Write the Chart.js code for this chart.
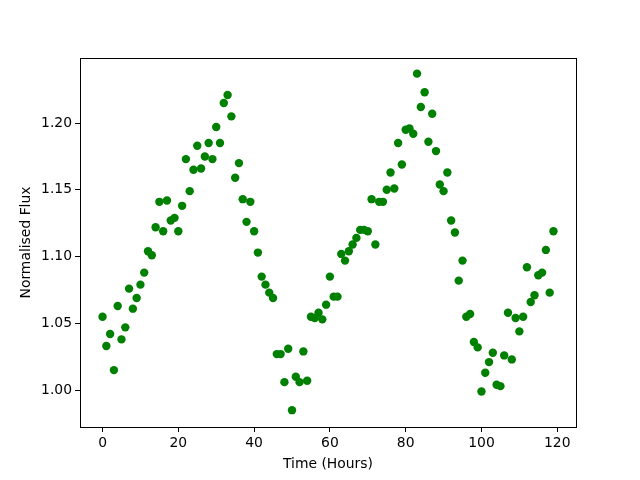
<!DOCTYPE html>
<html>
<head>
<meta charset="utf-8">
<script src="https://cdn.jsdelivr.net/npm/chart.js@4/dist/chart.umd.min.js"></script>
<style>
html,body{margin:0;padding:0;background:#fff;}
#wrap{width:640px;height:480px;}
</style>
</head>
<body>
<div id="wrap"><canvas id="c" width="640" height="480"></canvas></div>
<script>
const hours = [];
for (let h = 0; h < 120; h++) hours.push(h);
const flux = [
1.055,1.033,1.042,1.015,1.063,1.038,1.047,1.076,1.061,1.069,
1.079,1.088,1.104,1.101,1.122,1.141,1.119,1.142,1.127,1.129,
1.119,1.138,1.173,1.149,1.165,1.183,1.166,1.175,1.185,1.173,
1.197,1.185,1.215,1.221,1.205,1.159,1.170,1.143,1.126,1.141,
1.119,1.103,1.085,1.079,1.073,1.069,1.027,1.027,1.006,1.031,
0.985,1.010,1.006,1.029,1.007,1.055,1.054,1.058,1.053,1.064,
1.085,1.070,1.070,1.102,1.097,1.104,1.109,1.114,1.120,1.120,
1.119,1.143,1.109,1.141,1.141,1.150,1.163,1.151,1.185,1.169,
1.195,1.196,1.192,1.237,1.212,1.223,1.186,1.207,1.179,1.154,
1.149,1.163,1.127,1.118,1.082,1.097,1.055,1.057,1.036,1.032,
0.999,1.013,1.021,1.028,1.004,1.003,1.026,1.058,1.023,1.054,
1.044,1.055,1.092,1.066,1.071,1.086,1.088,1.105,1.073,1.119
];
const xTicks = [0,20,40,60,80,100,120];
const yTicks = [1.00,1.05,1.10,1.15,1.20];
const xLabel = 'Time (Hours)';
const yLabel = 'Normalised Flux';

const points = hours.map((h,i)=>({x:h,y:flux[i]}));
const font = {family:'"DejaVu Sans"', size:13.9};

const frame = {
  id:'frame',
  afterDatasetsDraw(chart){
    const a = chart.chartArea, ctx = chart.ctx;
    ctx.save();
    ctx.strokeStyle = '#000';
    ctx.lineWidth = 1;
    ctx.strokeRect(Math.round(a.left)+0.5, Math.round(a.top)+0.5, Math.round(a.right-a.left), Math.round(a.bottom-a.top));
    ctx.restore();
  }
};

new Chart(document.getElementById('c'), {
  type:'scatter',
  data:{datasets:[{
    data:points,
    backgroundColor:'#008000',
    borderColor:'#008000',
    borderWidth:0,
    pointRadius:4.2,
    pointHoverRadius:4.2
  }]},
  options:{
    responsive:false,
    animation:false,
    events:[],
    layout:{padding:{top:58,right:64,left:0,bottom:0}},
    plugins:{legend:{display:false},tooltip:{enabled:false}},
    scales:{
      x:{
        type:'linear',
        min:-5.95, max:124.95,
        afterBuildTicks(s){ s.ticks = xTicks.map(v=>({value:v})); },
        afterFit(s){ s.height = 53; },
        grid:{drawOnChartArea:false, drawTicks:true, tickLength:5, tickColor:'#000', tickWidth:1},
        border:{display:true, color:'#000', width:1},
        ticks:{color:'#000', font:font, padding:3, maxRotation:0, callback:v=>String(v)},
        title:{display:true, text:xLabel, color:'#000', font:font, padding:{top:2,bottom:7}}
      },
      y:{
        type:'linear',
        min:0.9724, max:1.2487,
        afterBuildTicks(s){ s.ticks = yTicks.map(v=>({value:v})); },
        afterFit(s){ s.width = 80; },
        grid:{drawOnChartArea:false, drawTicks:true, tickLength:5, tickColor:'#000', tickWidth:1},
        border:{display:true, color:'#000', width:1},
        ticks:{color:'#000', font:font, padding:3, callback:v=>Number(v).toFixed(2)},
        title:{display:true, text:yLabel, color:'#000', font:font, padding:{top:18,bottom:2}}
      }
    }
  },
  plugins:[frame]
});
</script>
</body>
</html>
